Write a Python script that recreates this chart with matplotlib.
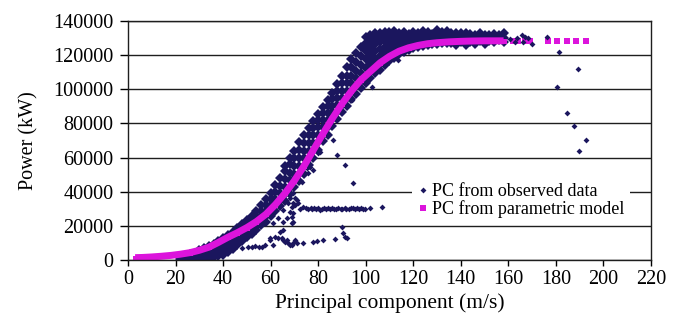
import matplotlib.pyplot as plt

plt.rcParams["font.family"] = ["Liberation Serif", "DejaVu Serif"]

# all power values in 1000 kW
# parametric model curve (continuous part)
model_x = [3, 6, 10, 14, 18, 22, 26, 30, 34, 38, 42, 46, 50, 54, 58, 62, 66, 70,
           74, 78, 82, 86, 90, 94, 98, 102, 106, 110, 114, 118, 122, 126, 130,
           135, 140, 145, 150, 155, 158]
model_y = [1.4, 1.5, 1.8, 2.2, 2.7, 3.4, 4.3, 5.7, 7.5, 10.3, 13.3, 16.0, 19.0,
           22.5, 26.8, 32.5, 39.0, 46.5, 55.0, 64.5, 74.0, 83.0, 91.5, 99.0,
           105.5, 110.5, 115.5, 119.3, 122.3, 124.3, 125.7, 126.7, 127.3, 127.8,
           128.1, 128.3, 128.4, 128.4, 128.4]
# parametric model, isolated squares at the end
model_tail_x = [162.0, 164.0, 167.0, 169.0, 176.5, 180.5, 184.5, 188.5, 192.5]
model_tail_y = [128.4, 128.4, 128.4, 128.4, 128.4, 128.4, 128.4, 128.4, 128.4]

# observed data: the dense band, as columns (x, [power values])
band_cols = [
    (22, [0.3, 1.0, 1.8]),
    (24, [0.2, 0.8, 1.5, 2.6]),
    (26, [0.4, 1.2, 2.0, 3.4]),
    (28, [0.3, 1.0, 1.9, 3.0, 4.4]),
    (30, [0.6, 1.5, 2.5, 4.0, 5.6]),
    (32, [0.8, 1.8, 3.2, 5.0, 6.8]),
    (34, [1.0, 2.4, 4.2, 6.3, 8.2]),
    (36, [1.6, 3.0, 5.2, 7.6, 9.6]),
    (38, [2.2, 4.0, 6.5, 9.0, 11.2]),
    (40, [3.0, 5.2, 8.0, 10.5, 12.8]),
    (42, [4.5, 7.0, 9.6, 12.2, 14.6]),
    (44, [6.5, 9.0, 11.5, 14.0, 16.5]),
    (46, [9.0, 11.5, 13.8, 16.0, 18.5]),
    (48, [11.0, 13.5, 16.0, 18.5, 21.0]),
    (50, [13.5, 16.0, 18.5, 21.0, 23.6]),
    (52, [15.5, 18.0, 20.6, 23.2, 26.0]),
    (54, [17.5, 20.0, 22.8, 25.6, 28.8]),
    (56, [20.5, 23.0, 26.0, 29.0, 32.2]),
    (58, [22.5, 25.5, 28.6, 32.0, 35.5]),
    (60, [25.5, 28.5, 32.0, 35.6, 39.5]),
    (62, [28.5, 32.0, 35.8, 39.6, 43.8]),
    (64, [31.5, 35.0, 39.2, 43.5, 48.0]),
    (66, [34.5, 38.5, 42.8, 47.5, 52.0, 55.0]),
    (68, [38.5, 42.0, 46.6, 51.2, 56.0, 59.5]),
    (70, [42.5, 46.0, 50.5, 55.0, 59.8, 64.0]),
    (72, [46.5, 50.5, 55.0, 59.5, 64.5, 69.0]),
    (74, [50.5, 55.0, 59.5, 64.0, 68.8, 73.5]),
    (76, [55.5, 59.5, 64.0, 68.5, 73.0, 77.5]),
    (78, [59.5, 64.0, 68.5, 73.0, 77.5, 81.5]),
    (80, [64.5, 69.0, 73.5, 77.8, 82.0, 85.6]),
    (82, [69.5, 73.5, 78.0, 82.0, 86.0, 89.5]),
    (84, [73.5, 78.0, 82.0, 86.0, 90.0, 93.8]),
    (86, [78.5, 82.5, 86.5, 90.5, 94.5, 98.0]),
    (88, [82.5, 87.0, 91.0, 95.0, 99.0, 103.0]),
    (90, [86.5, 91.0, 95.0, 99.0, 103.5, 108.0]),
    (92, [90.5, 95.0, 99.0, 103.5, 108.0, 113.0]),
    (94, [94.5, 99.0, 103.5, 108.0, 113.0, 118.0]),
    (96, [97.5, 102.0, 106.5, 111.0, 116.0, 121.5]),
    (98, [100.5, 105.0, 109.5, 114.5, 119.5, 125.0]),
    (100, [103.5, 108.0, 112.5, 117.5, 122.5, 127.0, 130.5]),
    (102, [106.5, 111.0, 115.5, 120.0, 124.5, 128.5, 132.0]),
    (104, [109.5, 113.5, 118.0, 122.5, 126.5, 130.0, 133.0]),
    (106, [111.5, 115.5, 119.5, 123.5, 127.5, 130.5, 133.2]),
    (108, [114.5, 118.0, 121.5, 125.0, 128.5, 131.0, 133.6]),
    (110, [116.5, 120.0, 123.5, 126.5, 129.5, 132.0, 133.4]),
    (112, [118.5, 121.5, 124.5, 127.5, 130.0, 132.5, 134.0]),
    (114, [120.5, 123.0, 126.0, 128.5, 131.0, 133.2]),
    (116, [122.0, 124.5, 127.0, 129.5, 131.8, 133.8]),
    (118, [123.0, 125.5, 128.0, 130.5, 132.6]),
    (120, [124.0, 126.5, 129.0, 131.5, 133.5]),
    (122, [124.8, 127.0, 129.4, 131.6, 133.0]),
    (124, [125.4, 127.6, 129.8, 132.0, 134.0]),
    (126, [126.0, 128.0, 130.2, 132.4, 133.6]),
    (128, [126.4, 128.4, 130.6, 132.6]),
    (130, [126.8, 128.8, 131.0, 133.2, 134.6]),
    (132, [127.0, 129.0, 131.2, 133.4]),
    (134, [127.2, 129.2, 131.2, 133.0, 134.2]),
    (136, [127.4, 129.4, 131.4, 133.2]),
    (138, [126.0, 127.6, 129.6, 131.4, 133.0]),
    (140, [127.8, 129.6, 131.4, 132.8]),
    (142, [126.2, 128.0, 129.8, 131.6, 133.2]),
    (144, [128.0, 129.8, 131.4, 132.6]),
    (146, [126.5, 128.2, 130.0, 131.6]),
    (148, [128.2, 130.0, 131.8, 133.0]),
    (150, [126.8, 128.4, 130.2, 131.8]),
    (152, [128.4, 130.2, 131.6]),
    (154, [127.5, 128.6, 130.4, 132.2]),
    (156, [128.6, 130.4, 132.0]),
    (158, [128.0, 130.2, 132.8]),
]

# observed: low group (10-20k)
low_x = [48.0, 50.5, 52.0, 53.5, 55.0, 56.2, 57.6, 59.7, 61.1, 61.8, 63.2, 64.7,
         65.4, 66.0, 66.8, 67.4, 68.2, 68.9, 69.5, 70.3, 71.0, 73.8, 78.0, 79.4,
         82.2, 87.1, 89.9, 90.6, 91.3, 92.0, 65.4, 68.9, 63.9, 59.7]
low_y = [7.2, 7.8, 7.5, 8.0, 7.9, 7.8, 8.8, 11.7, 8.8, 13.6, 12.7, 12.7, 11.7,
         10.7, 11.7, 9.8, 8.8, 8.8, 9.8, 11.7, 9.8, 10.1, 10.7, 11.3, 11.7, 12.1,
         19.5, 15.6, 13.6, 12.7, 17.6, 21.9, 16.6, 12.7]

# observed: the flat row near 30000 kW
row_x = [73.8, 75.0, 75.9, 76.8, 77.5, 78.3, 79.2, 80.0, 80.9, 81.7, 82.6, 83.4,
         84.3, 85.1, 86.0, 86.8, 87.7, 88.5, 89.4, 90.2, 91.1, 91.9, 92.8, 93.6,
         94.5, 95.3, 96.2, 97.0, 97.9, 98.7, 99.6, 101.8, 106.7]
row_y = [31.0, 30.2, 29.6, 30.4, 29.9, 30.6, 29.8, 30.3, 29.5, 30.1, 30.5, 29.7,
         30.2, 29.9, 30.6, 30.0, 29.6, 30.4, 30.1, 29.8, 30.5, 30.0, 29.7, 30.3,
         30.6, 29.9, 30.2, 29.6, 30.4, 30.0, 29.8, 30.3, 30.9]

# observed: scattered points below the curve
mid_x = [68.2, 68.9, 68.2, 66.8, 65.4, 69.5, 68.9, 65.4, 63.2, 61.1, 69.5, 70.3,
         71.0, 71.6, 69.5, 70.3, 67.4, 72.4, 69.5, 73.1, 75.2, 75.9, 76.6, 78.0,
         80.1, 80.8, 86.4, 87.8, 91.3, 94.8, 94.1, 102.5, 113.7]
mid_y = [36.1, 31.2, 28.3, 24.4, 22.4, 22.4, 25.4, 29.3, 24.4, 21.5, 39.0, 36.1,
         35.1, 33.2, 33.2, 32.2, 33.2, 29.7, 27.3, 45.9, 53.7, 50.8, 54.7, 52.7,
         62.5, 63.4, 70.3, 61.5, 55.7, 44.9, 93.7, 101.5, 117.2]

# observed: points beyond 160 m/s
tail_x = [160.5, 162.8, 163.5, 165.6, 166.3, 167.0, 168.4, 169.8, 176.1, 181.3,
          189.2, 180.6, 184.8, 187.6, 192.7, 189.9]
tail_y = [129.5, 127.9, 130.2, 131.8, 127.9, 130.8, 129.9, 126.4, 130.8, 122.0,
          111.9, 101.2, 85.9, 78.5, 70.3, 63.7]

OBS_COLOR = "#1b165e"
MODEL_COLOR = "#dc14dc"
KW = 1000

band_x = [x for x, ys in band_cols for _ in ys]
band_y = [y * KW for _, ys in band_cols for y in ys]

fig = plt.figure(figsize=(6.82, 3.22), dpi=100)
ax = fig.add_axes([0.1877, 0.1925, 0.7668, 0.7422])

obs_kw = dict(ls="none", marker="D", ms=3.0, mew=0, color=OBS_COLOR)
ax.plot(band_x, band_y, ls="none", marker="D", ms=4.6, mew=0, color=OBS_COLOR)
h_obs, = ax.plot(low_x, [y * KW for y in low_y], **obs_kw)
for xs, ys in [(row_x, row_y), (mid_x, mid_y)]:
    ax.plot(xs, [y * KW for y in ys], **obs_kw)

ax.plot(model_x, [y * KW for y in model_y], color=MODEL_COLOR, lw=5.0,
        solid_capstyle="butt", marker="s", ms=3.6, mew=0)
h_model, = ax.plot(model_tail_x, [y * KW for y in model_tail_y], ls="none",
                   marker="s", ms=3.8, mew=0, color=MODEL_COLOR)
ax.plot(tail_x, [y * KW for y in tail_y], **obs_kw)

ax.set_xlim(0, 220)
ax.set_ylim(0, 140000)
ax.set_xticks(range(0, 221, 20))
ax.set_yticks(range(0, 140001, 20000))
ax.yaxis.grid(True, color="#1e1e1e", lw=1.0)
ax.set_axisbelow(True)
for s in ax.spines.values():
    s.set_color("#1e1e1e")
    s.set_linewidth(1.0)
ax.tick_params(axis="x", direction="out", length=4, width=1.0, pad=3,
               labelsize=14.5)
ax.tick_params(axis="y", direction="out", length=6, width=1.0, pad=4.5,
               labelsize=14.5)

ax.set_xlabel("Principal component (m/s)", fontsize=15.5)
ax.set_ylabel("Power (kW)", fontsize=14.5)
ax.xaxis.set_label_coords(0.5, -0.14)
ax.yaxis.set_label_coords(-0.172, 0.5)

leg = ax.legend([h_obs, h_model],
                ["PC from observed data", "PC from parametric model"],
                loc="center left", bbox_to_anchor=(0.543, 0.249), fontsize=13,
                frameon=True, framealpha=1, edgecolor="none", fancybox=False,
                borderpad=0.3, handlelength=0.6, handletextpad=0.2,
                labelspacing=0.0, borderaxespad=0)

fig.savefig("out.png", dpi=100)
plt.close(fig)
